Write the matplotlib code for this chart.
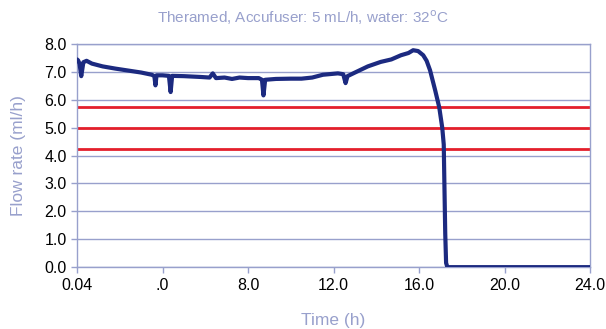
import matplotlib.pyplot as plt
import numpy as np

plt.rcParams['font.family'] = ['Liberation Sans', 'DejaVu Sans']

# flow readings
time_h = [0.0, 0.05, 0.12, 0.2, 0.3, 0.45, 0.7, 1.2, 1.8, 2.4, 3.0, 3.5, 3.62, 3.67, 3.72, 4.0,
          4.3, 4.38, 4.45, 5.0, 5.8, 6.2, 6.35, 6.5, 6.9, 7.25, 7.6, 8.0, 8.5, 8.65, 8.72,
          8.8, 9.3, 10.0, 10.5, 11.0, 11.5, 12.2, 12.45, 12.56, 12.65, 13.0, 13.6, 14.2,
          14.7, 15.15, 15.5, 15.72, 15.95, 16.19, 16.35, 16.51, 16.75, 16.94, 17.08, 17.15,
          17.18, 17.22, 17.26, 17.32, 18.5, 20.0, 22.0, 24.0]
flow = [7.45, 7.42, 7.3, 6.85, 7.35, 7.4, 7.3, 7.2, 7.12, 7.05, 6.98, 6.9, 6.85, 6.52, 6.88, 6.88,
        6.86, 6.28, 6.86, 6.85, 6.82, 6.8, 6.95, 6.78, 6.8, 6.75, 6.8, 6.78, 6.78, 6.72, 6.16,
        6.72, 6.75, 6.76, 6.76, 6.8, 6.9, 6.95, 6.92, 6.6, 6.85, 6.98, 7.2, 7.36,
        7.45, 7.6, 7.68, 7.78, 7.75, 7.6, 7.4, 7.06, 6.34, 5.73, 5.0, 4.4,
        3.0, 1.2, 0.15, 0.0, 0.0, 0.0, 0.0, 0.0]

# reference bands (ml/h)
target_lines = [5.75, 5.0, 4.25]

x_ticks = [0, 4, 8, 12, 16, 20, 24]
x_tick_labels = ['0.04', '.0', '8.0', '12.0', '16.0', '20.0', '24.0']
y_ticks = [0, 1, 2, 3, 4, 5, 6, 7, 8]

lav = '#98a0cc'

fig = plt.figure(figsize=(6.06, 3.29), dpi=100)
ax = fig.add_axes([0.127, 0.188, 0.847, 0.678])

for v in y_ticks:
    ax.axhline(v, color=lav, lw=1.0, zorder=1)
for v in target_lines:
    ax.axhline(v, color='#e41f2b', lw=2.0, zorder=2)

ax.plot(time_h, flow, color='#1c2a80', lw=3.0, solid_joinstyle='round',
        solid_capstyle='round', zorder=3)

ax.set_xlim(0, 24)
ax.set_ylim(0, 8)
ax.set_xticks(x_ticks)
ax.set_xticklabels(x_tick_labels)
ax.set_yticks(y_ticks)
ax.set_yticklabels(['%.1f' % v for v in y_ticks])
ax.tick_params(colors=lav, labelcolor='black', labelsize=11.5, length=4, width=1)
for s in ax.spines.values():
    s.set_color(lav)
    s.set_linewidth(1.0)

ax.set_xlabel('Time (h)', color=lav, fontsize=12.5, labelpad=15)
ax.set_ylabel('Flow rate (ml/h)', color=lav, fontsize=12.5, labelpad=13)
fig.text(0.5, 0.945, 'Theramed, Accufuser: 5 mL/h, water: 32$^{\\rm o}$C', color=lav,
         fontsize=11, ha='center', va='center')

fig.savefig('out.png', dpi=100)
